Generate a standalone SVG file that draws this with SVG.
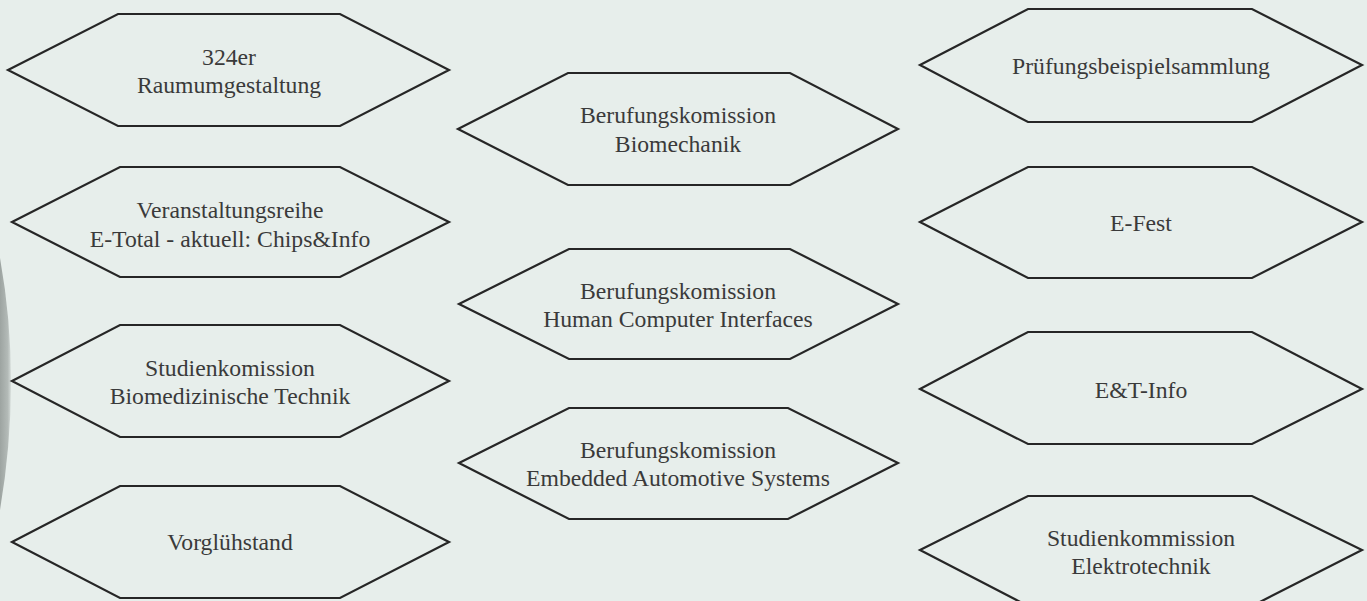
<svg xmlns="http://www.w3.org/2000/svg" width="1367" height="601" viewBox="0 0 1367 601">
<defs>
<style>
.hex{fill:none;stroke:#262626;stroke-width:2.2;stroke-linejoin:miter}
.t{font-family:"Liberation Serif","Times New Roman",serif;font-size:23.7px;fill:#3a3a3a;text-anchor:middle}
</style>
<linearGradient id="edge" x1="0" y1="0" x2="1" y2="0">
<stop offset="0" stop-color="#9da4a1"/>
<stop offset="0.7" stop-color="#b3bab7"/>
<stop offset="1" stop-color="#d5dcd9"/>
</linearGradient>
</defs>
<rect width="1367" height="601" fill="#e7eeeb"/>
<path d="M0,258 Q22,380 0,510 Z" fill="url(#edge)"/>
<g id="connectors"></g>
<g id="n1"><polygon class="hex" points="8,70 118,14 340,14 449,70 340,126 118,126"/><text class="t" x="229" y="65">324er</text><text class="t" x="229" y="93">Raumumgestaltung</text></g>
<g id="n2"><polygon class="hex" points="12,222 120,167 340,167 449,222 340,277 120,277"/><text class="t" x="230" y="218">Veranstaltungsreihe</text><text class="t" x="230" y="247">E-Total - aktuell: Chips&amp;Info</text></g>
<g id="n3"><polygon class="hex" points="12,381 120,325 340,325 449,381 340,437 120,437"/><text class="t" x="230" y="376">Studienkomission</text><text class="t" x="230" y="404">Biomedizinische Technik</text></g>
<g id="n4"><polygon class="hex" points="12,542 120,486 340,486 449,542 340,598 120,598"/><text class="t" x="230" y="550">Vorglühstand</text></g>
<g id="n5"><polygon class="hex" points="458,129 568,73 790,73 898,129 790,185 568,185"/><text class="t" x="678" y="123">Berufungskomission</text><text class="t" x="678" y="152">Biomechanik</text></g>
<g id="n6"><polygon class="hex" points="459,304 569,249 790,249 898,304 790,359 569,359"/><text class="t" x="678" y="299">Berufungskomission</text><text class="t" x="678" y="327">Human Computer Interfaces</text></g>
<g id="n7"><polygon class="hex" points="459,463 569,408 788,408 898,463 788,519 569,519"/><text class="t" x="678" y="458">Berufungskomission</text><text class="t" x="678" y="486">Embedded Automotive Systems</text></g>
<g id="n8"><polygon class="hex" points="920,65 1028,9 1252,9 1362,65 1252,122 1028,122"/><text class="t" x="1141" y="74">Prüfungsbeispielsammlung</text></g>
<g id="n9"><polygon class="hex" points="920,222 1028,167 1252,167 1362,222 1252,278 1028,278"/><text class="t" x="1141" y="231">E-Fest</text></g>
<g id="n10"><polygon class="hex" points="920,389 1028,332 1252,332 1362,389 1252,444 1028,444"/><text class="t" x="1141" y="398">E&amp;T-Info</text></g>
<g id="n11"><polygon class="hex" points="920,550 1028,496 1252,496 1362,550 1252,606 1028,606"/><text class="t" x="1141" y="546">Studienkommission</text><text class="t" x="1141" y="574">Elektrotechnik</text></g>
</svg>
